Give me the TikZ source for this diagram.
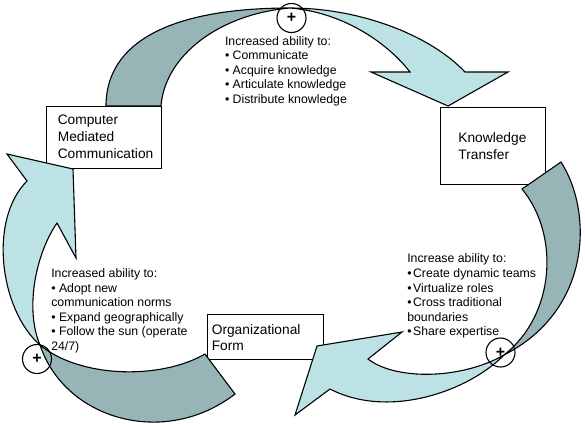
\documentclass[tikz,border=0pt]{standalone}
\usepackage{fontspec}
\setmainfont{Liberation Sans}
\definecolor{lightarrow}{RGB}{189,226,230}
\definecolor{darkarrow}{RGB}{151,180,183}
\begin{document}
\begin{tikzpicture}[x=1bp,y=-1bp,
  box/.style={draw, fill=white, line width=1bp, inner sep=0},
  boxtext/.style={font=\fontsize{13.75bp}{16.6bp}\selectfont, align=left, inner sep=0, anchor=west},
  bodytext/.style={font=\fontsize{12.3bp}{14.6bp}\selectfont, align=left, inner sep=0, anchor=north west},
  frontside/.style={fill=lightarrow, draw, line width=1.1bp},
  backside/.style={fill=darkarrow, draw, line width=1.1bp},
  plusmark/.style={circle, draw, line width=1.1bp, minimum size=29bp, inner sep=0, font=\fontsize{16bp}{16bp}\selectfont\bfseries}
]
\useasboundingbox (0,0) rectangle (585,423);

% boxes
\node[box, minimum width=115bp, minimum height=62bp] (cmc) at (103.5,137) {};
\node[box, minimum width=105bp, minimum height=77bp] (kt) at (492.5,145.5) {};
\node[box, minimum width=116bp, minimum height=45bp] (org) at (265,336.5) {};

% twist points
\coordinate (ttop) at (290,8);
\coordinate (tright) at (504,355);
\coordinate (tleft) at (40,345);

% top arrow: CMC -> Knowledge Transfer
\draw[backside] (106,106) .. controls (106,42) and (171,8) .. (ttop)
  .. controls (220,14) and (165,55) .. (161,106) -- cycle;
\draw[frontside] (ttop) .. controls (360,8) and (430,35) .. (465,72)
  -- (508,72) -- (448,106) -- (371,72) -- (410,72)
  .. controls (385,40) and (340,12) .. (ttop) -- cycle;

% right arrow: Knowledge Transfer -> Organizational Form
\draw[backside] (561,162) .. controls (593,212) and (592,310) .. (tright)
  .. controls (555,315) and (560,235) .. (522,189) -- cycle;
\draw[frontside] (tright) .. controls (470,390) and (390,420) .. (330,389)
  -- (295,415) -- (317,346) -- (402,332) -- (368,359)
  .. controls (395,380) and (460,380) .. (tright) -- cycle;

% left arrow: Organizational Form -> CMC
\draw[backside] (tleft) .. controls (65,420) and (165,448) .. (235,394)
  -- (205,354) .. controls (160,380) and (80,378) .. (tleft) -- cycle;
\draw[frontside] (tleft) .. controls (0,310) and (-12,220) .. (27,181)
  -- (7,154) -- (73,169) -- (76,258) -- (57,223)
  .. controls (35,255) and (25,310) .. (tleft) -- cycle;

% plus marks
\node[plusmark] (plustop) at (291.5,18) {+};
\node[plusmark] (plusright) at (500.5,352.5) {+};
\node[plusmark] (plusleft) at (37,359) {+};

% box texts
\node[boxtext] (cmct) at (57.6,136.7) {Computer\\Mediated\\Communication};
\node[boxtext] (ktt) at (458.2,146) {Knowledge\\Transfer};
\node[boxtext] (orgt) at (211.6,337.5) {Organizational\\Form};

% ability texts
\node[bodytext] (toptext) at (224.8,36) {Increased ability to:\\• Communicate\\• Acquire knowledge\\• Articulate knowledge\\• Distribute knowledge};
\node[bodytext] (lefttext) at (51.1,268.3) {Increased ability to:\\• Adopt new\\communication norms\\• Expand geographically\\• Follow the sun (operate\\24/7)};
\node[bodytext] (righttext) at (407.1,253.7) {Increase ability to:\\•\hspace{1.5bp}Create dynamic teams\\•\hspace{1.5bp}Virtualize roles\\•\hspace{1.5bp}Cross traditional\\boundaries\\•\hspace{1.5bp}Share expertise};
\end{tikzpicture}
\end{document}
